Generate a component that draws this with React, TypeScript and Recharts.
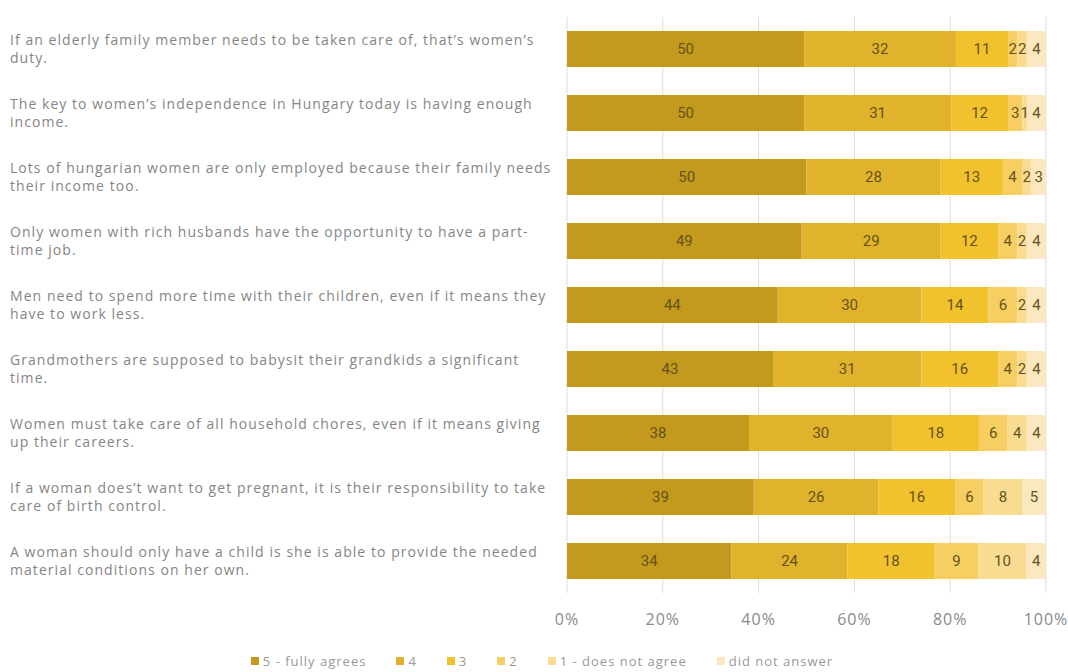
import React from 'react';
import { BarChart, Bar, XAxis, YAxis, CartesianGrid, LabelList } from 'recharts';

// Statement text, split the way it wraps in the original
const statementLines: string[][] = [
    ['If an elderly family member needs to be taken care of, that\u2019s women\u2019s', 'duty.'],
    ['The key to women\u2019s independence in Hungary today is having enough', 'income.'],
    ['Lots of hungarian women are only employed because their family needs', 'their income too.'],
    ['Only women with rich husbands have the opportunity to have a part-', 'time job.'],
    ['Men need to spend more time with their children, even if it means they', 'have to work less.'],
    ['Grandmothers are supposed to babysit their grandkids a significant', 'time.'],
    ['Women must take care of all household chores, even if it means giving', 'up their careers.'],
    ['If a woman does\u2019t want to get pregnant, it is their responsibility to take', 'care of birth control.'],
    ['A woman should only have a child is she is able to provide the needed', 'material conditions on her own.'],
];
const categories = statementLines.map((l) => l.join(' '));

const fullyAgrees = [50, 50, 50, 49, 44, 43, 38, 39, 34];
const four = [32, 31, 28, 29, 30, 31, 30, 26, 24];
const three = [11, 12, 13, 12, 14, 16, 18, 16, 18];
const two = [2, 3, 4, 4, 6, 4, 6, 6, 9];
const doesNotAgree = [2, 1, 2, 2, 2, 2, 4, 8, 10];
const noAnswer = [4, 4, 3, 4, 4, 4, 4, 5, 4];

const xTicks = [0, 0.2, 0.4, 0.6, 0.8, 1];

const series = [
    { key: 's5', name: '5 - fully agrees', color: '#C49A1E', values: fullyAgrees },
    { key: 's4', name: '4', color: '#E1B22B', values: four },
    { key: 's3', name: '3', color: '#F2C12E', values: three },
    { key: 's2', name: '2', color: '#F6CE62', values: two },
    { key: 's1', name: '1 - does not agree', color: '#F9DC92', values: doesNotAgree },
    { key: 's0', name: 'did not answer', color: '#FBE8C0', values: noAnswer },
];

const data = categories.map((c, i) => {
    const row: Record<string, string | number> = { name: c };
    series.forEach((s) => {
        row[s.key] = s.values[i];
    });
    return row;
});

const StatementTick = (props: any) => {
    const { y, payload } = props;
    const lines = statementLines[payload.index] || [payload.value];
    return (
        <text
            x={10}
            y={y}
            fill="#858585"
            fontSize={14}
            letterSpacing={1.05}
            fontFamily="'Open Sans', sans-serif"
            textAnchor="start"
        >
            <tspan x={10} dy={-4}>{lines[0]}</tspan>
            <tspan x={10} dy={18}>{lines[1]}</tspan>
        </text>
    );
};

export default function App() {
    return (
        <div style={{ position: 'absolute', left: 0, top: 0, width: 1068, height: 672, background: '#fff' }}>
            <BarChart
                width={1068}
                height={672}
                data={data}
                layout="vertical"
                stackOffset="expand"
                margin={{ top: 17, right: 22, bottom: 49, left: 0 }}
            >
                <CartesianGrid horizontal={false} stroke="#dcdcdc" />
                <XAxis
                    type="number"
                    domain={[0, 1]}
                    ticks={xTicks}
                    height={30}
                    tickMargin={15}
                    tickFormatter={(v: number) => `${Math.round(v * 100)}%`}
                    axisLine={false}
                    tickLine={false}
                    tick={{ fill: '#8a8a8a', fontSize: 16, letterSpacing: 1, fontFamily: "'Open Sans', sans-serif" }}
                />
                <YAxis
                    type="category"
                    dataKey="name"
                    width={567}
                    axisLine={false}
                    tickLine={false}
                    tick={<StatementTick />}
                    interval={0}
                />
                {series.map((s) => (
                    <Bar key={s.key} dataKey={s.key} name={s.name} stackId="a" fill={s.color} barSize={36} isAnimationActive={false}>
                        <LabelList
                            dataKey={s.key}
                            position="center"
                            fill="#64521a"
                            fontSize={15}
                            fontFamily="Roboto, sans-serif"
                        />
                    </Bar>
                ))}
            </BarChart>
            <div
                style={{
                    position: 'absolute',
                    top: 652,
                    left: 0,
                    width: 1084,
                    display: 'flex',
                    justifyContent: 'center',
                    gap: 30,
                    fontFamily: "'Open Sans', sans-serif",
                    fontSize: 13,
                    letterSpacing: 1,
                    color: '#999999',
                }}
            >
                {series.map((s) => (
                    <span key={s.key} style={{ display: 'flex', alignItems: 'center', gap: 4 }}>
                        <span style={{ display: 'inline-block', width: 8, height: 8, background: s.color }} />
                        {s.name}
                    </span>
                ))}
            </div>
        </div>
    );
}
